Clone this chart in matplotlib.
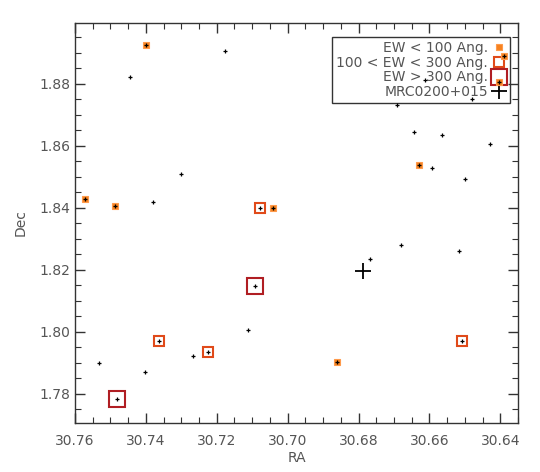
import matplotlib
matplotlib.use("Agg")
import matplotlib.pyplot as plt
from matplotlib.lines import Line2D
from matplotlib.ticker import MultipleLocator, FormatStrFormatter

# galaxy positions (RA, Dec) by equivalent width class
ra_plain = [30.7178, 30.7444, 30.7301, 30.7380, 30.7532, 30.7402, 30.7266, 30.7112,
            30.6691, 30.6643, 30.6565, 30.6428, 30.6592, 30.6500, 30.6679, 30.6516,
            30.6769, 30.6612, 30.6479]
dec_plain = [1.8907, 1.8823, 1.8510, 1.8418, 1.7899, 1.7871, 1.7920, 1.8004,
             1.8733, 1.8644, 1.8635, 1.8606, 1.8527, 1.8494, 1.8281, 1.8261,
             1.8234, 1.8811, 1.8752]

ra_low = [30.7572, 30.7488, 30.7399, 30.7042, 30.6630, 30.6861, 30.6404, 30.6390]
dec_low = [1.8428, 1.8406, 1.8925, 1.8398, 1.8539, 1.7902, 1.8807, 1.8891]

ra_mid = [30.7077, 30.7364, 30.7226, 30.6509]
dec_mid = [1.8398, 1.7971, 1.7934, 1.7970]

ra_high = [30.7481, 30.7092]
dec_high = [1.7781, 1.8147]

ra_mrc = [30.6786]
dec_mrc = [1.8196]

c_low = "#f58220"
c_mid = "#e04a1a"
c_high = "#b01e23"
grey = "#555555"

fig = plt.figure(figsize=(5.4, 4.72), dpi=100)
ax = fig.add_axes([0.1389, 0.1038, 0.8204, 0.8485])

# squares first, then the crosses for all galaxies on top
ax.plot(ra_low, dec_low, ls="none", marker="s", ms=4.6, mfc=c_low, mec="#ff9a4a", mew=0.8, zorder=3)
ax.plot(ra_mid, dec_mid, ls="none", marker="s", ms=7.5, mfc="none", mec=c_mid, mew=1.5, zorder=3)
ax.plot(ra_high, dec_high, ls="none", marker="s", ms=11.5, mfc="none", mec=c_high, mew=1.5, zorder=3)

ra_all = ra_plain + ra_low + ra_mid + ra_high
dec_all = dec_plain + dec_low + dec_mid + dec_high
ax.plot(ra_all, dec_all, ls="none", marker="+", ms=3.5, mew=0.9, color="black", zorder=4)
ax.plot(ra_mrc, dec_mrc, ls="none", marker="+", ms=12, mew=1.3, color="black", zorder=4)

ax.set_xlim(30.76, 30.635)
ax.set_ylim(1.7705, 1.8998)
ax.xaxis.set_major_locator(MultipleLocator(0.02))
ax.xaxis.set_minor_locator(MultipleLocator(0.005))
ax.yaxis.set_major_locator(MultipleLocator(0.02))
ax.yaxis.set_minor_locator(MultipleLocator(0.005))
ax.xaxis.set_major_formatter(FormatStrFormatter("%.2f"))
ax.yaxis.set_major_formatter(FormatStrFormatter("%.2f"))
ax.tick_params(which="both", direction="in", top=True, right=True,
               labelsize=10, labelcolor=grey, color="#333333")
ax.tick_params(which="major", length=7, width=1)
ax.tick_params(which="minor", length=4, width=0.8)
ax.tick_params(axis="x", pad=8)
for s in ax.spines.values():
    s.set_color("#333333")
    s.set_linewidth(1)

ax.set_xlabel("RA", color=grey, fontsize=10, labelpad=2)
ax.set_ylabel("Dec", color=grey, fontsize=10, labelpad=8)

handles = [
    Line2D([], [], ls="none", marker="s", ms=4.6, mfc=c_low, mec="#ff9a4a", mew=0.8),
    Line2D([], [], ls="none", marker="s", ms=7.5, mfc="none", mec=c_mid, mew=1.5),
    Line2D([], [], ls="none", marker="s", ms=11.5, mfc="none", mec=c_high, mew=1.5),
    Line2D([], [], ls="none", marker="+", ms=12, mew=1.3, color="black"),
]
labels = ["EW < 100 Ang.", "100 < EW < 300 Ang.", "EW > 300 Ang.", "MRC0200+015"]
leg = ax.legend(handles, labels, loc="upper right", bbox_to_anchor=(0.982, 0.964),
                borderaxespad=0, markerfirst=False, fontsize=10, labelspacing=0.05,
                handlelength=1.0, handletextpad=0.3, borderpad=0.3, fancybox=False,
                framealpha=1, edgecolor="#333333")
leg.get_frame().set_linewidth(1)
leg.get_frame().set_facecolor("none")
leg.set_zorder(2)
for t in leg.get_texts():
    t.set_color(grey)
    t.set_ha("right")

fig.savefig("out.png", dpi=100)
